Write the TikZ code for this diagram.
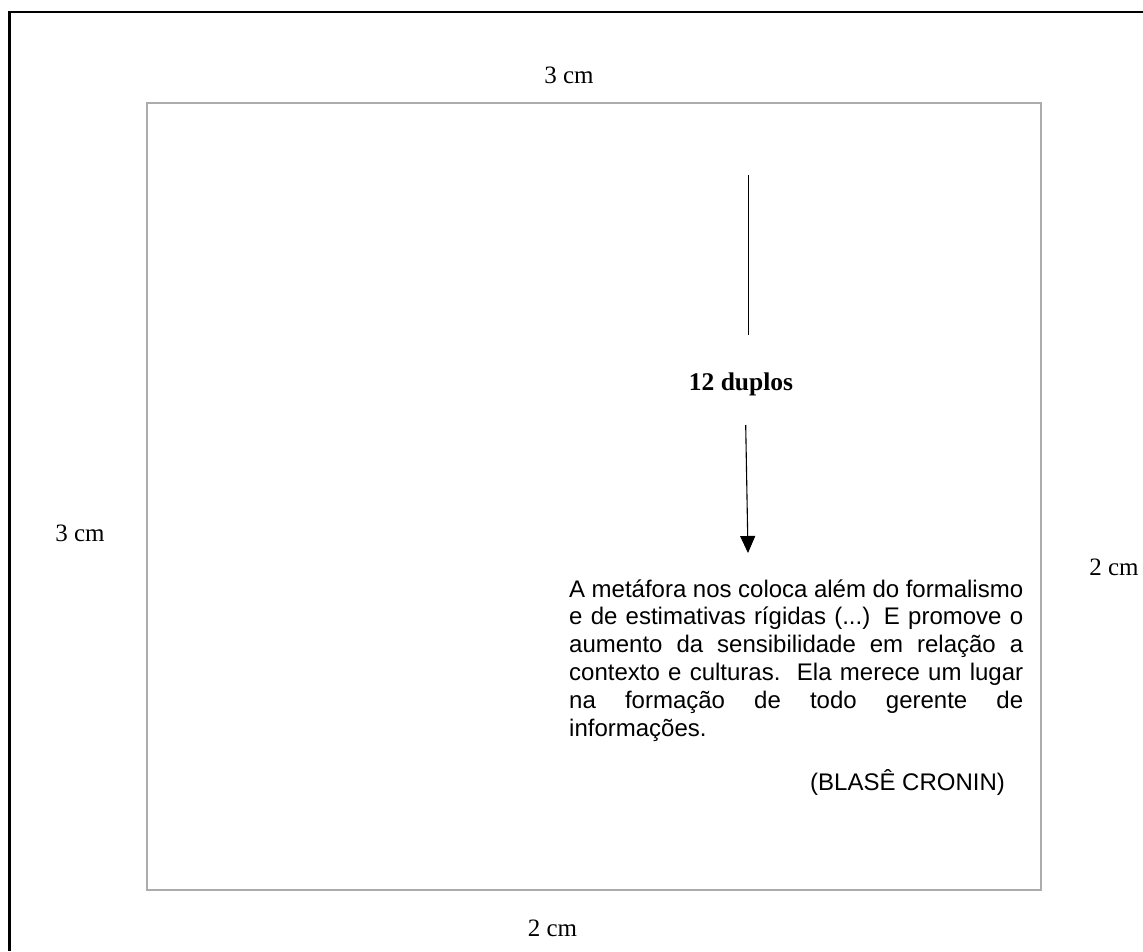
\documentclass[tikz,border=0pt]{standalone}
\usepackage{fontspec}
\setmainfont{Liberation Serif}
\newfontfamily\arialf{Liberation Sans}
\usetikzlibrary{arrows.meta}
\definecolor{pagegray}{RGB}{172,172,172}
\begin{document}
\begin{tikzpicture}[x=1pt,y=-1pt,
  lbl/.style={font=\fontsize{25}{30}\selectfont, inner sep=0pt, anchor=base},
  boldlbl/.style={font=\bfseries\fontsize{25.5}{30}\selectfont, inner sep=0pt, anchor=base},
  quotetext/.style={font=\arialf\fontsize{24}{27.8}\selectfont, inner sep=0pt, anchor=base west},
  frame/.style={line width=2.4pt, draw=black},
  pageedge/.style={line width=2pt, draw=pagegray},
  conn/.style={line width=1.1pt, draw=black},
  arrowconn/.style={conn, -{Triangle[width=15pt,length=17pt]}}]
\useasboundingbox (0,0) rectangle (1143,951);
% outer frame (top and left edges visible)
\draw[frame] (9.5,951) -- (9.5,12) -- (1143,12);
% page
\draw[pageedge] (147,103) rectangle (1041,890);
% margin labels
\node[lbl] (top) at (569,83) {3 cm};
\node[lbl] (bottom) at (552.5,936) {2 cm};
\node[lbl] (left) at (80,541) {3 cm};
\node[lbl] (right) at (1114,575) {2 cm};
% 12 duplos with connectors
\coordinate (l1s) at (748.7,175);
\coordinate (l1e) at (748.7,335);
\node[boldlbl] (dup) at (741,390) {12 duplos};
\coordinate (a0) at (745.7,425);
\coordinate (a1) at (748,553);
\draw[conn] (l1s) -- (l1e);
\draw[arrowconn] (a0) -- (a1);
% quote
\node[quotetext] (quote) at (569,597) {\parbox[t]{454pt}{%
\makebox[454pt][s]{A metáfora nos coloca além do formalismo}\\
\makebox[454pt][s]{e de estimativas rígidas (...) E promove o}\\
\makebox[454pt][s]{aumento da sensibilidade em relação a}\\
\makebox[454pt][s]{contexto e culturas.\ \ Ela merece um lugar}\\
\makebox[454pt][s]{na formação de todo gerente de}\\
informações.}};
\node[quotetext] (author) at (810,790) {(BLASÊ CRONIN)};
\end{tikzpicture}
\end{document}
